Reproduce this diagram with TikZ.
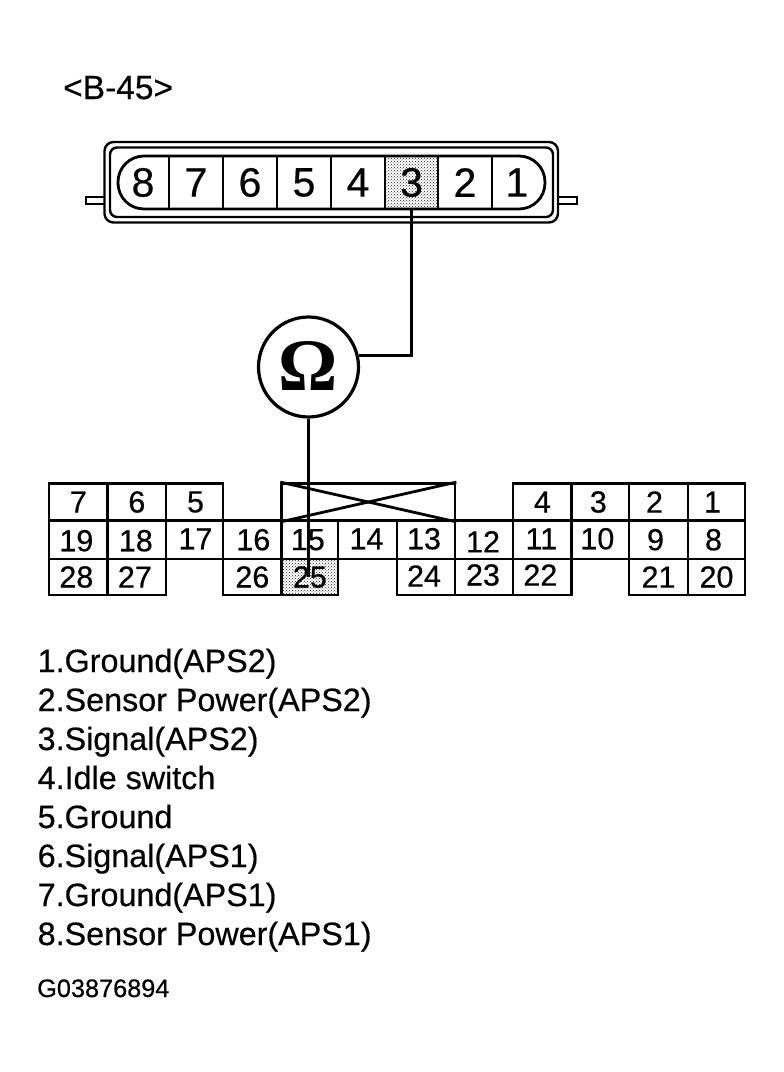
\documentclass[tikz,border=0pt]{standalone}
\usepackage{fontspec}
\setmainfont{Liberation Sans}[FakeBold=0.45]
\newfontfamily\omegafont{Liberation Serif}
\usetikzlibrary{patterns}
\tikzset{
  ln/.style={line width=2.8pt, line join=miter},
  cellbox/.style={draw, line width=2.8pt, inner sep=0pt},
  pinbox/.style={inner sep=0pt, minimum width=53.5pt, minimum height=53pt, font=\fontsize{41}{41}\selectfont},
  pindraw/.style={pinbox, draw, line width=2.4pt},
  hatch/.style={pattern=crosshatch dots, pattern color=black!85},
  listtext/.style={anchor=base west, inner sep=0pt, font=\fontsize{32.3}{32.3}\selectfont},
  wire/.style={line width=2.8pt}
}
% [style]{label}{x1}{x2}{y1}{y2}{dy}{dx}
\newcommand{\gridcell}[8][]{%
  \node[cellbox, #1, minimum width={#4-#3}, minimum height={#6-#5}] (c#2) at ({(#3+#4)/2},{(#5+#6)/2}) {};
  \node[inner sep=0pt, font=\fontsize{30.5}{30.5}\selectfont] (t#2) at ({(#3+#4)/2+#8},{(#5+#6)/2+#7}) {#2};
}
\begin{document}
\begin{tikzpicture}[x=1pt,y=-1pt]
\useasboundingbox (0,0) rectangle (784,1072);
\fill[white] (0,0) rectangle (784,1072);

\node[listtext, font=\fontsize{33.5}{33.5}\selectfont] (title) at (63,99) {<B-45>};

% top connector
\draw[ln, fill=white] (104,197) -- (86,197) -- (86,204) -- (104,204);
\draw[ln, fill=white] (558,197) -- (577,197) -- (577,204) -- (558,204);
\draw[line width=2.4pt, rounded corners=9pt, fill=white] (104.5,142) rectangle (558,222.5);
\draw[line width=2.4pt, rounded corners=7pt] (110,147.5) rectangle (553,217);
\draw[line width=2.8pt, rounded corners=26pt] (118,156) rectangle (545,209);
\node[pinbox] (pin8) at (143,182.5) {8};
\node[pindraw] (pin7) at (196,182.5) {7};
\node[pindraw] (pin6) at (250,182.5) {6};
\node[pindraw] (pin5) at (304,182.5) {5};
\node[pindraw] (pin4) at (358,182.5) {4};
\node[pindraw, hatch] (pin3) at (411.5,182.5) {};
\node[pinbox] (pin3t) at (411.5,182.5) {3};
\node[pindraw] (pin2) at (465,182.5) {2};
\node[pinbox] (pin1) at (517,182.5) {1};

% grid
\gridcell{7}{49}{107.7}{483.5}{520.5}{0}{0}
\gridcell{6}{107.7}{166}{483.5}{520.5}{0}{0}
\gridcell{5}{166}{223}{483.5}{520.5}{0}{1}
\gridcell{4}{513}{571.7}{483.5}{520.5}{0}{0}
\gridcell{3}{571.7}{629}{483.5}{520.5}{0}{-2}
\gridcell{2}{629}{688}{483.5}{520.5}{0}{-4}
\gridcell{1}{688}{745}{483.5}{520.5}{0}{-4}

\gridcell{19}{49}{107.7}{520.5}{559}{1}{-2}
\gridcell{18}{107.7}{166}{520.5}{559}{1}{-1}
\gridcell{17}{166}{223}{520.5}{559}{-1}{1}
\gridcell{16}{223}{281.7}{520.5}{559}{0}{1}
\gridcell{15}{281.7}{338}{520.5}{559}{0}{-2}
\gridcell{14}{338}{397}{520.5}{559}{-1}{-1}
\gridcell{13}{397}{455}{520.5}{559}{-1}{-2}
\gridcell{12}{455}{513}{520.5}{559}{2}{-1}
\gridcell{11}{513}{571.7}{520.5}{559}{-1}{-1}
\gridcell{10}{571.7}{629}{520.5}{559}{-1}{-3}
\gridcell{9}{629}{688}{520.5}{559}{0}{-3}
\gridcell{8}{688}{745}{520.5}{559}{0}{-3}

\gridcell{28}{49}{107.7}{559}{595}{0}{-2}
\gridcell{27}{107.7}{166}{559}{595}{0}{-2}
\gridcell{26}{223}{281.7}{559}{595}{0}{0}
\gridcell[hatch]{25}{281.7}{338}{559}{595}{0}{0}
\gridcell{24}{397}{455}{559}{595}{-1}{-2}
\gridcell{23}{455}{513}{559}{595}{-2}{-1}
\gridcell{22}{513}{571.7}{559}{595}{-2}{-2}
\gridcell{21}{629}{688}{559}{595}{0}{0}
\gridcell{20}{688}{745}{559}{595}{0}{0}

% blocked cavity
\node[cellbox, minimum width=173.3pt, minimum height=37pt] (blocked) at (368.35,502) {};
\draw[ln] (blocked.north west) -- (blocked.south east);
\draw[ln] (blocked.south west) -- (blocked.north east);

% meter
\node[circle, draw, line width=3.2pt, fill=white, minimum size=100pt, inner sep=0pt] (ohm) at (308.5,367) {};
\node[inner sep=0pt, font=\omegafont\bfseries\fontsize{74}{74}\selectfont] (omega) at (308.5,365.5) {Ω};

% wires
\draw[wire] (pin3.south) |- (ohm.13.6);
\draw[wire] (ohm.south) -- (ohm.south |- c25.center);

% list
\node[listtext] (l1) at (37.5,672) {1.Ground(APS2)};
\node[listtext] (l2) at (37.5,711) {2.Sensor Power(APS2)};
\node[listtext] (l3) at (37.5,750) {3.Signal(APS2)};
\node[listtext] (l4) at (37.5,789) {4.Idle switch};
\node[listtext] (l5) at (37.5,828) {5.Ground};
\node[listtext] (l6) at (37.5,867) {6.Signal(APS1)};
\node[listtext] (l7) at (37.5,906) {7.Ground(APS1)};
\node[listtext] (l8) at (37.5,945) {8.Sensor Power(APS1)};
\node[listtext, font=\fontsize{25.3}{25.3}\selectfont] (code) at (37,997) {G03876894};
\end{tikzpicture}
\end{document}
